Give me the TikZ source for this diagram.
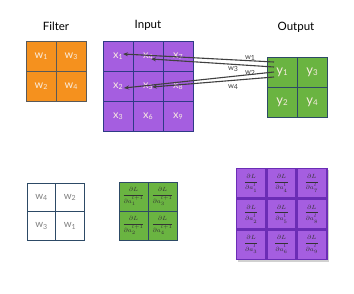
\documentclass[tikz,border=0pt]{standalone}
\usepackage{fontspec}
\setmainfont{Lato}
\usepackage{amsmath}
\usetikzlibrary{arrows.meta,calc}
\definecolor{orng}{HTML}{F5911E}
\definecolor{purp}{HTML}{A55EE0}
\definecolor{grn}{HTML}{6AB441}
\definecolor{navy}{HTML}{2E3A86}
\definecolor{gnavy}{HTML}{2D4A66}
\definecolor{dpurp}{HTML}{6B2DB5}
\definecolor{txtl}{HTML}{F8ECE0}
\newcommand{\lsub}[2]{#1{\fontsize{7}{7}\selectfont\raisebox{-1.5pt}{#2}}}
\newcommand{\lsubb}[2]{#1{\fontsize{8}{8}\selectfont\raisebox{-1.5pt}{#2}}}
\newcommand{\grd}[2]{$\dfrac{\partial L}{\partial a_{#1}^{\raisebox{1.5pt}{$\scriptstyle #2$}}}$}
\tikzset{
  cell/.style={draw, minimum size=30pt, inner sep=0pt, line width=0.8pt, font=\fontsize{11}{11}\selectfont, text=txtl},
  fcell/.style={cell, fill=orng, draw=black!65},
  icell/.style={cell, fill=purp, draw=navy},
  ocell/.style={cell, fill=grn, draw=gnavy, font=\fontsize{13}{13}\selectfont},
  wcell/.style={cell, fill=white, draw=gnavy, minimum size=28.5pt, text=black!50, font=\fontsize{10}{10}\selectfont},
  gcell/.style={cell, fill=grn, draw=gnavy, minimum size=29pt, text=black!80, font=\fontsize{6.5}{6.5}\selectfont},
  pcell/.style={cell, fill=purp, draw=dpurp, line width=1.3pt, minimum width=29pt, minimum height=29.4pt, text=black!80, font=\fontsize{6.5}{6.5}\selectfont},
  pback/.style={fill=purp, draw=dpurp, line width=1.6pt},
  title/.style={font=\fontsize{11.5}{11.5}\selectfont, text=black},
  warrow/.style={draw=black!75, line width=1.1pt, -{Stealth[length=5pt,width=4pt]}},
  wlab/.style={font=\fontsize{7.5}{7.5}\selectfont, text=black!75, inner sep=0pt},
}
\begin{document}
\begin{tikzpicture}[x=1pt,y=-1pt]
\useasboundingbox (0,0) rectangle (354,293);
% titles
\node[title] (tf) at (56,26) {Filter};
\node[title] (ti) at (148,25) {Input};
\node[title] (to) at (296,27) {Output};
% filter
\node[fcell] (f1) at (41,56) {\lsub{w}{1}};
\node[fcell] (f3) at (71,56) {\lsub{w}{3}};
\node[fcell] (f2) at (41,86) {\lsub{w}{2}};
\node[fcell] (f4) at (71,86) {\lsub{w}{4}};
% input
\node[icell] (x1) at (118,56) {\lsub{x}{1}};
\node[icell] (x4) at (148,56) {\lsub{x}{4}};
\node[icell] (x7) at (178,56) {\lsub{x}{7}};
\node[icell] (x2) at (118,86) {\lsub{x}{2}};
\node[icell] (x5) at (148,86) {\lsub{x}{5}};
\node[icell] (x8) at (178,86) {\lsub{x}{8}};
\node[icell] (x3) at (118,116) {\lsub{x}{3}};
\node[icell] (x6) at (148,116) {\lsub{x}{6}};
\node[icell] (x9) at (178,116) {\lsub{x}{9}};
% output
\node[ocell] (y1) at (282,72) {\lsubb{y}{1}};
\node[ocell] (y3) at (312,72) {\lsubb{y}{3}};
\node[ocell] (y2) at (282,102) {\lsubb{y}{2}};
\node[ocell] (y4) at (312,102) {\lsubb{y}{4}};
% arrows
\coordinate (s1) at (274,62);
\coordinate (s2) at (274,67);
\coordinate (s3) at (274,72);
\coordinate (s4) at (274,77);
\coordinate (e1) at (123,54);
\coordinate (e2) at (151,59);
\coordinate (e3) at (124,88);
\coordinate (e4) at (152,87);
\draw[warrow] (s1) -- (e1);
\draw[warrow] (s2) -- (e2);
\draw[warrow] (s3) -- (e3);
\draw[warrow] (s4) -- (e4);
\node[wlab] (l1) at (250,58) {\lsub{w}{1}};
\node[wlab] (l3) at (233,69) {\lsub{w}{3}};
\node[wlab] (l2) at (250,73) {\lsub{w}{2}};
\node[wlab] (l4) at (233,87) {\lsub{w}{4}};
% flipped filter
\node[wcell] (r4) at (41.25,197.25) {\lsub{w}{4}};
\node[wcell] (r2) at (69.75,197.25) {\lsub{w}{2}};
\node[wcell] (r3) at (41.25,225.75) {\lsub{w}{3}};
\node[wcell] (r1) at (69.75,225.75) {\lsub{w}{1}};
% green gradient grid
\node[gcell] (g1) at (133.5,196.5) {\grd{1}{l+1}};
\node[gcell] (g3) at (162.5,196.5) {\grd{3}{l+1}};
\node[gcell] (g2) at (133.5,225.5) {\grd{2}{l+1}};
\node[gcell] (g4) at (162.5,225.5) {\grd{4}{l+1}};
% purple gradient grid
\fill[black!18] (238,170) rectangle (329,262);
\draw[pback] (236.3,168.3) rectangle (326.8,259.6);
\node[pcell] (p1) at (251.2,183.3) {\grd{1}{l}};
\node[pcell] (p4) at (281.5,183.3) {\grd{4}{l}};
\node[pcell] (p7) at (311.8,183.3) {\grd{7}{l}};
\node[pcell] (p2) at (251.2,214) {\grd{2}{l}};
\node[pcell] (p5) at (281.5,214) {\grd{5}{l}};
\node[pcell] (p8) at (311.8,214) {\grd{8}{l}};
\node[pcell] (p3) at (251.2,244.7) {\grd{3}{l}};
\node[pcell] (p6) at (281.5,244.7) {\grd{6}{l}};
\node[pcell] (p9) at (311.8,244.7) {\grd{9}{l}};
\end{tikzpicture}
\end{document}
